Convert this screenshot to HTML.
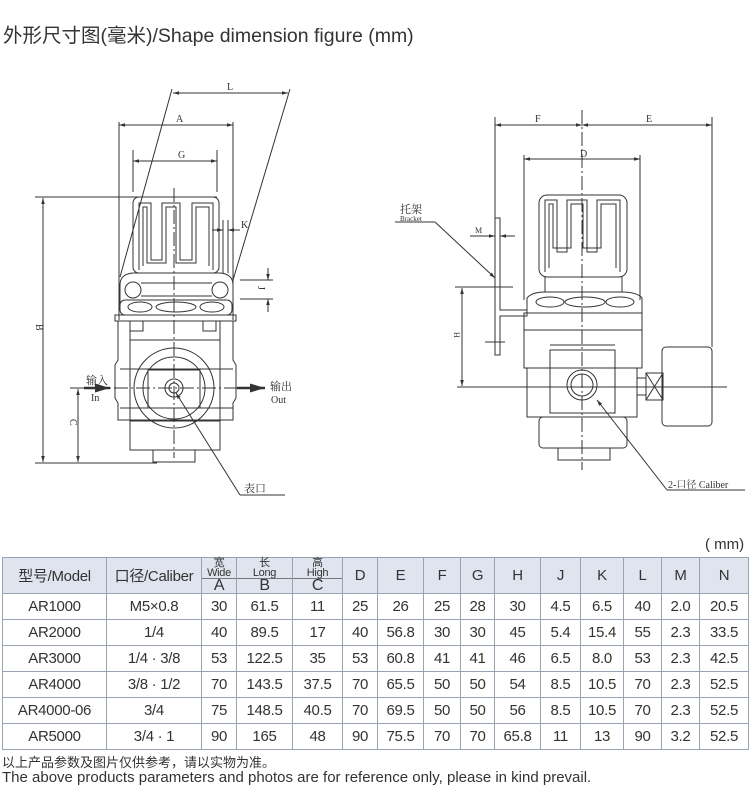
<!DOCTYPE html>
<html><head><meta charset="utf-8">
<style>
body{margin:0;width:750px;height:790px;background:#fff;position:relative;overflow:hidden;font-family:"Liberation Sans","Noto Sans CJK SC",sans-serif;color:#333}
.t{position:absolute;white-space:nowrap}
table{position:absolute;left:2px;top:557px;border-collapse:collapse;width:746px;table-layout:fixed;font-size:15px;color:#333}
td{border:1px solid #9aa3b3;text-align:center;padding:0;height:25px;letter-spacing:-0.3px}
tr.h td{background:#dfe4ef;height:35px}
.sub{font-size:11px;line-height:10px;border-bottom:1px solid #777;display:block;margin:0 -1px}
.big{font-size:16px;line-height:14px;display:block}
</style></head><body>
<div class="t" style="left:3px;top:19px;font-size:19.5px;color:#333">外形尺寸图(毫米)/Shape dimension figure (mm)</div>

<svg width="750" height="530" style="position:absolute;left:0;top:0" fill="none" stroke="#333" stroke-width="1">
<defs><marker id="a" viewBox="0 0 10 10" refX="10" refY="5" markerWidth="6" markerHeight="6" orient="auto-start-reverse"><path d="M0,2L10,5L0,8z" fill="#333" stroke="none"/></marker></defs>
<!-- LEFT -->
<line x1="173" y1="93" x2="288" y2="93" marker-start="url(#a)" marker-end="url(#a)"/>
<line x1="172" y1="89" x2="120" y2="277"/><line x1="290" y1="89" x2="233" y2="280"/>
<line x1="119" y1="125" x2="233" y2="125" marker-start="url(#a)" marker-end="url(#a)"/>
<line x1="119" y1="122" x2="119" y2="320"/><line x1="233" y1="122" x2="233" y2="320"/>
<line x1="133" y1="161" x2="217" y2="161" marker-start="url(#a)" marker-end="url(#a)"/>
<line x1="133" y1="150" x2="133" y2="192"/><line x1="217" y1="150" x2="217" y2="192"/>
<line x1="35" y1="197" x2="217" y2="197"/>
<line x1="43" y1="198" x2="43" y2="462" marker-start="url(#a)" marker-end="url(#a)"/>
<line x1="35" y1="463" x2="157" y2="463"/>
<rect x="133" y="197" width="86" height="76" rx="6"/>
<path d="M139,270V203H151V260H162V203H180V260H192V203H213V270"/>
<path d="M143,266V207H147V263H166V207H176V263H196V207H209V266"/>
<line x1="223" y1="220" x2="223" y2="273"/><line x1="228" y1="220" x2="228" y2="273"/>
<line x1="212" y1="230" x2="223" y2="230" marker-end="url(#a)"/><line x1="240" y1="230" x2="228" y2="230" marker-end="url(#a)"/>
<line x1="240" y1="280" x2="273" y2="280"/><line x1="240" y1="299" x2="273" y2="299"/>
<line x1="268" y1="268" x2="268" y2="280" marker-end="url(#a)"/><line x1="268" y1="312" x2="268" y2="299" marker-end="url(#a)"/>
<path d="M120,310V285Q120,274 133,273H220Q233,274 233,285V310"/>
<circle cx="133" cy="290" r="8"/><circle cx="220" cy="290" r="8"/>
<line x1="141" y1="283" x2="212" y2="283"/><line x1="141" y1="296" x2="212" y2="296"/>
<rect x="120" y="300" width="112" height="15" rx="5"/>
<ellipse cx="140" cy="307" rx="12" ry="5"/><ellipse cx="176" cy="307" rx="20" ry="5"/><ellipse cx="212" cy="307" rx="12" ry="5"/>
<rect x="115" y="315" width="121" height="6"/>
<path d="M118,321V360L115,365V398L118,403V420H233V403L236,398V365L233,360V321Z"/>
<rect x="130" y="321" width="90" height="100"/>
<rect x="130" y="321" width="13" height="10"/><rect x="203" y="321" width="13" height="10"/>
<line x1="130" y1="340" x2="220" y2="340"/>
<line x1="120" y1="369" x2="233" y2="369"/><line x1="120" y1="408" x2="233" y2="408"/>
<rect x="130" y="420" width="90" height="30"/>
<rect x="153" y="450" width="42" height="12"/>
<circle cx="174" cy="388" r="40"/><circle cx="174" cy="388" r="31"/>
<rect x="148" y="370" width="52" height="38"/>
<circle cx="174" cy="388" r="9"/><circle cx="174" cy="388" r="5"/>
<line x1="174" y1="188" x2="174" y2="458" stroke-dasharray="14,3,2,3"/>
<line x1="70" y1="388" x2="268" y2="388" stroke-dasharray="14,3,2,3"/>
<line x1="84" y1="388" x2="110" y2="388" stroke-width="2.5" marker-end="url(#a)"/>
<line x1="237" y1="388" x2="265" y2="388" stroke-width="2.5" marker-end="url(#a)"/>
<line x1="78" y1="389" x2="78" y2="462" marker-start="url(#a)" marker-end="url(#a)"/>
<line x1="176" y1="393" x2="240" y2="495" marker-start="url(#a)"/><line x1="240" y1="495" x2="285" y2="495"/>
<!-- RIGHT -->
<line x1="495" y1="125" x2="582" y2="125" marker-start="url(#a)" marker-end="url(#a)"/>
<line x1="582" y1="125" x2="712" y2="125" marker-start="url(#a)" marker-end="url(#a)"/>
<line x1="495" y1="117" x2="495" y2="218"/><line x1="712" y1="117" x2="712" y2="347"/>
<line x1="524" y1="159" x2="640" y2="159" marker-start="url(#a)" marker-end="url(#a)"/>
<line x1="524" y1="155" x2="524" y2="300"/><line x1="640" y1="155" x2="640" y2="300"/>
<rect x="539" y="195" width="88" height="82" rx="8"/>
<path d="M545,272V200H557V252H567V200H587V252H597V200H620V272"/>
<path d="M549,268V204H553V248H571V204H583V248H601V204H616V268"/>
<path d="M545,277V292M622,277V292"/>
<path d="M527,313V298Q532,292 545,292H622Q637,292 642,298V313Z"/>
<ellipse cx="550" cy="302" rx="14" ry="5"/><ellipse cx="585" cy="302" rx="20" ry="5"/><ellipse cx="620" cy="302" rx="14" ry="5"/>
<rect x="524" y="313" width="118" height="55"/>
<rect x="527" y="368" width="110" height="49"/>
<rect x="550" y="350" width="65" height="63"/>
<line x1="524" y1="330" x2="642" y2="330"/><line x1="550" y1="345" x2="615" y2="345"/>
<rect x="539" y="417" width="88" height="31" rx="4"/>
<rect x="558" y="448" width="52" height="12"/>
<circle cx="582" cy="385" r="15"/><circle cx="582" cy="385" r="11"/>
<rect x="662" y="347" width="50" height="79" rx="4"/>
<rect x="646" y="373" width="17" height="27"/><path d="M646,373L663,400M663,373L646,400"/>
<rect x="637" y="378" width="9" height="17"/>
<path d="M495,218V355H500V316H527V310H500V218Z"/>
<line x1="470" y1="236" x2="495" y2="236" marker-end="url(#a)"/><line x1="515" y1="236" x2="500" y2="236" marker-end="url(#a)"/>
<line x1="485" y1="342" x2="505" y2="342"/>
<line x1="455" y1="287" x2="513" y2="287"/>
<line x1="462" y1="288" x2="462" y2="386" marker-start="url(#a)" marker-end="url(#a)"/>
<line x1="457" y1="387" x2="727" y2="387"/>
<line x1="582" y1="110" x2="582" y2="470" stroke-dasharray="14,3,2,3"/>
<line x1="395" y1="222" x2="435" y2="222"/><line x1="435" y1="222" x2="495" y2="278" marker-end="url(#a)"/>
<line x1="597" y1="400" x2="667" y2="490" marker-start="url(#a)"/><line x1="667" y1="490" x2="745" y2="490"/>
<g fill="#333" stroke="none" font-family="Liberation Serif,Noto Serif CJK SC,serif" font-size="10">
<text x="227" y="90">L</text><text x="176" y="122">A</text><text x="178" y="158">G</text>
<text x="241" y="228">K</text><text x="258" y="294" transform="rotate(90 262 290)">J</text>
<text x="38" y="330" transform="rotate(90 40 326)">B</text><text x="72" y="425" transform="rotate(90 74 421)">C</text>
<text x="86" y="384" font-size="11" font-family="Noto Serif CJK SC,serif">输入</text><text x="91" y="401">In</text>
<text x="270" y="390" font-size="11" font-family="Noto Serif CJK SC,serif">输出</text><text x="271" y="403">Out</text>
<text x="244" y="492" font-size="11" font-family="Noto Serif CJK SC,serif">表口</text>
<text x="535" y="122">F</text><text x="646" y="122">E</text><text x="580" y="157">D</text>
<text x="475" y="233" font-size="8">M</text><text x="452" y="338" transform="rotate(90 456 336)" font-size="8">H</text>
<text x="400" y="213" font-size="11" font-family="Noto Serif CJK SC,serif">托架</text><text x="400" y="221" font-size="7">Bracket</text>
<text x="668" y="488" font-size="10">2-口径 Caliber</text>
</g>
</svg>

<div class="t" style="left:705px;top:536px;font-size:15px">( mm)</div>
<table>
<colgroup><col style="width:104px"><col style="width:95px"><col style="width:35px"><col style="width:56px"><col style="width:50px"><col style="width:35px"><col style="width:46px"><col style="width:37px"><col style="width:34px"><col style="width:46px"><col style="width:40px"><col style="width:43px"><col style="width:38px"><col style="width:38px"><col style="width:49px"></colgroup>
<tr class="h"><td>型号/Model</td><td>口径/Caliber</td><td><span class="sub">宽<br>Wide</span><span class="big">A</span></td><td><span class="sub">长<br>Long</span><span class="big">B</span></td><td><span class="sub">高<br>High</span><span class="big">C</span></td><td>D</td><td>E</td><td>F</td><td>G</td><td>H</td><td>J</td><td>K</td><td>L</td><td>M</td><td>N</td></tr>
<tr><td>AR1000</td><td>M5×0.8</td><td>30</td><td>61.5</td><td>11</td><td>25</td><td>26</td><td>25</td><td>28</td><td>30</td><td>4.5</td><td>6.5</td><td>40</td><td>2.0</td><td>20.5</td></tr>
<tr><td>AR2000</td><td>1/4</td><td>40</td><td>89.5</td><td>17</td><td>40</td><td>56.8</td><td>30</td><td>30</td><td>45</td><td>5.4</td><td>15.4</td><td>55</td><td>2.3</td><td>33.5</td></tr>
<tr><td>AR3000</td><td>1/4 · 3/8</td><td>53</td><td>122.5</td><td>35</td><td>53</td><td>60.8</td><td>41</td><td>41</td><td>46</td><td>6.5</td><td>8.0</td><td>53</td><td>2.3</td><td>42.5</td></tr>
<tr><td>AR4000</td><td>3/8 · 1/2</td><td>70</td><td>143.5</td><td>37.5</td><td>70</td><td>65.5</td><td>50</td><td>50</td><td>54</td><td>8.5</td><td>10.5</td><td>70</td><td>2.3</td><td>52.5</td></tr>
<tr><td>AR4000-06</td><td>3/4</td><td>75</td><td>148.5</td><td>40.5</td><td>70</td><td>69.5</td><td>50</td><td>50</td><td>56</td><td>8.5</td><td>10.5</td><td>70</td><td>2.3</td><td>52.5</td></tr>
<tr><td>AR5000</td><td>3/4 · 1</td><td>90</td><td>165</td><td>48</td><td>90</td><td>75.5</td><td>70</td><td>70</td><td>65.8</td><td>11</td><td>13</td><td>90</td><td>3.2</td><td>52.5</td></tr>
</table>
<div class="t" style="left:2px;top:752px;font-size:13px">以上产品参数及图片仅供参考，请以实物为准。</div>
<div class="t" style="left:2px;top:769px;font-size:15px">The above products parameters and photos are for reference only, please in kind prevail.</div>
</body></html>
